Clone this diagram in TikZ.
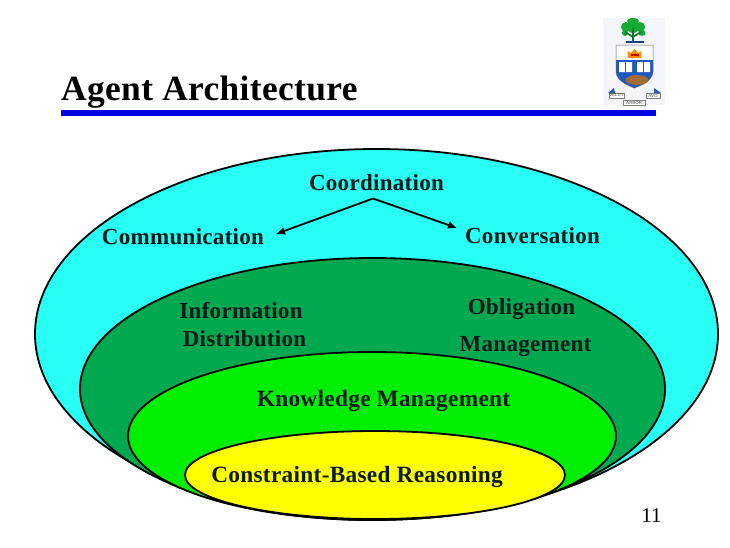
\documentclass[tikz,border=0pt]{standalone}
\usepackage{fontspec}
\usetikzlibrary{arrows.meta}
\setmainfont{Liberation Serif}
\newfontfamily\lblfont[LetterSpace=1.3]{Liberation Serif Bold}
\newfontfamily\titlefont[LetterSpace=1.0]{Liberation Serif Bold}
\definecolor{cyanfill}{RGB}{40,255,245}
\definecolor{darkgreenfill}{RGB}{0,168,80}
\definecolor{limefill}{RGB}{0,238,0}
\definecolor{yellowfill}{RGB}{255,255,0}
\definecolor{barblue}{RGB}{0,0,225}
\definecolor{inktext}{RGB}{10,25,25}
\definecolor{logoback}{RGB}{243,245,248}
\definecolor{shieldblue}{RGB}{30,90,190}
\definecolor{treegreen}{RGB}{20,170,50}
\begin{document}
\begin{tikzpicture}[x=1pt,y=-1pt,
  layer/.style={draw=black,line width=1.8pt},
  lbl/.style={inner sep=0pt,anchor=base,text=inktext,font=\lblfont\fontsize{23}{26}\selectfont,align=center},
  lblwide/.style={lbl,font=\lblfont\fontsize{23.3}{26}\selectfont},
  ttl/.style={inner sep=0pt,anchor=base west,text=black,font=\titlefont\fontsize{35.4}{40}\selectfont},
  pg/.style={inner sep=0pt,anchor=base,text=black,font=\fontsize{21}{24}\selectfont},
  motto/.style={inner sep=0pt,font=\sffamily\fontsize{4.4}{5}\selectfont,text=black!75},
  arrowline/.style={line width=1.8pt,-{Latex[length=9pt,width=8pt]}}]
\useasboundingbox (0,0) rectangle (730,547);
\fill[white] (0,0) rectangle (730,547);
% logo
\fill[logoback] (603,18) rectangle (665,105);
\fill[treegreen] (633,21) circle[x radius=6,y radius=3] (626,27) circle[x radius=5,y radius=5]
  (640,27) circle[x radius=5,y radius=5] (633,27) circle[radius=6] (625,33) circle[x radius=3,y radius=3] (642,33) circle[x radius=3.5,y radius=3];
\draw[treegreen!70!black,line width=1.6pt] (633,41) -- (633,28) (633,37) -- (625,32) (633,37) -- (641,32);
\fill[shieldblue!70!black] (626,41) rectangle (644,43);
\fill[white] (616,45) rectangle (653,60);
\fill[shieldblue] (616,60) -- (653,60) -- (653,72) .. controls (652,81) and (642,85) .. (634.5,88) .. controls (627,85) and (617,81) .. (616,72) -- cycle;
\draw[black!60,line width=.5pt] (616,45) -- (653,45) -- (653,72) .. controls (652,81) and (642,85) .. (634.5,88) .. controls (627,85) and (617,81) .. (616,72) -- cycle;
\fill[orange!90!yellow] (628,58) -- (627.5,51) -- (631,53) -- (634.5,49) -- (638,53) -- (641.5,51) -- (641,58) -- cycle;
\fill[red!75!black] (630.5,53.5) rectangle (638.5,56);
\fill[white] (619,62) rectangle (632,72) (637,62) rectangle (650,72);
\draw[shieldblue,line width=.6pt] (625.5,62) -- (625.5,72) (643.5,62) -- (643.5,72);
\fill[brown!85!black] (637,80) circle[x radius=11.5,y radius=5];
\fill[shieldblue] (608,93) -- (614,88) -- (615,93) -- cycle (661,93) -- (654,88) -- (654,93) -- cycle;
\fill[white] (609,93) rectangle (624,98) (646,93) rectangle (660,98) (623,100) rectangle (645,105);
\draw[black!50,line width=.3pt] (609,93) rectangle (624,98) (646,93) rectangle (660,98) (623,100) rectangle (645,105);
\node[motto] (mottoa) at (616.5,95.5) {VELUT};
\node[motto] (mottob) at (634,102.5) {ARBOR};
\node[motto] (mottoc) at (653,95.5) {AVO};
% title
\node[ttl] (title) at (61,100) {Agent Architecture};
\fill[barblue] (61,110) rectangle (656,116);
% ellipses
\draw[layer,fill=cyanfill] (376.5,334) circle[x radius=341.5,y radius=185];
\draw[layer,fill=darkgreenfill] (372.5,389) circle[x radius=292.5,y radius=131];
\draw[layer,fill=limefill] (372,436) circle[x radius=244,y radius=84];
\draw[layer,fill=yellowfill] (375,475) circle[x radius=190,y radius=44];
% labels
\node[lbl] (coord) at (376.5,190) {Coordination};
\node[lbl] (comm) at (183,244) {Communication};
\node[lbl] (conv) at (532.5,243) {Conversation};
\node[lbl] (info) at (241,318) {Information};
\node[lbl] (dist) at (244.5,346) {Distribution};
\node[lbl] (oblig) at (521.5,314) {Obligation};
\node[lbl] (mgmt) at (525.5,351) {Management};
\node[lblwide] (know) at (383.5,406) {Knowledge Management};
\node[lblwide] (cons) at (357,482) {Constraint-Based Reasoning};
\node[pg] (page) at (651.5,522) {11};
% connectors
\coordinate (apex) at (373,198.5);
\coordinate (lefttip) at (276,234);
\coordinate (righttip) at (457,228);
\draw[arrowline] (apex) -- (lefttip);
\draw[arrowline] (apex) -- (righttip);
\end{tikzpicture}
\end{document}
